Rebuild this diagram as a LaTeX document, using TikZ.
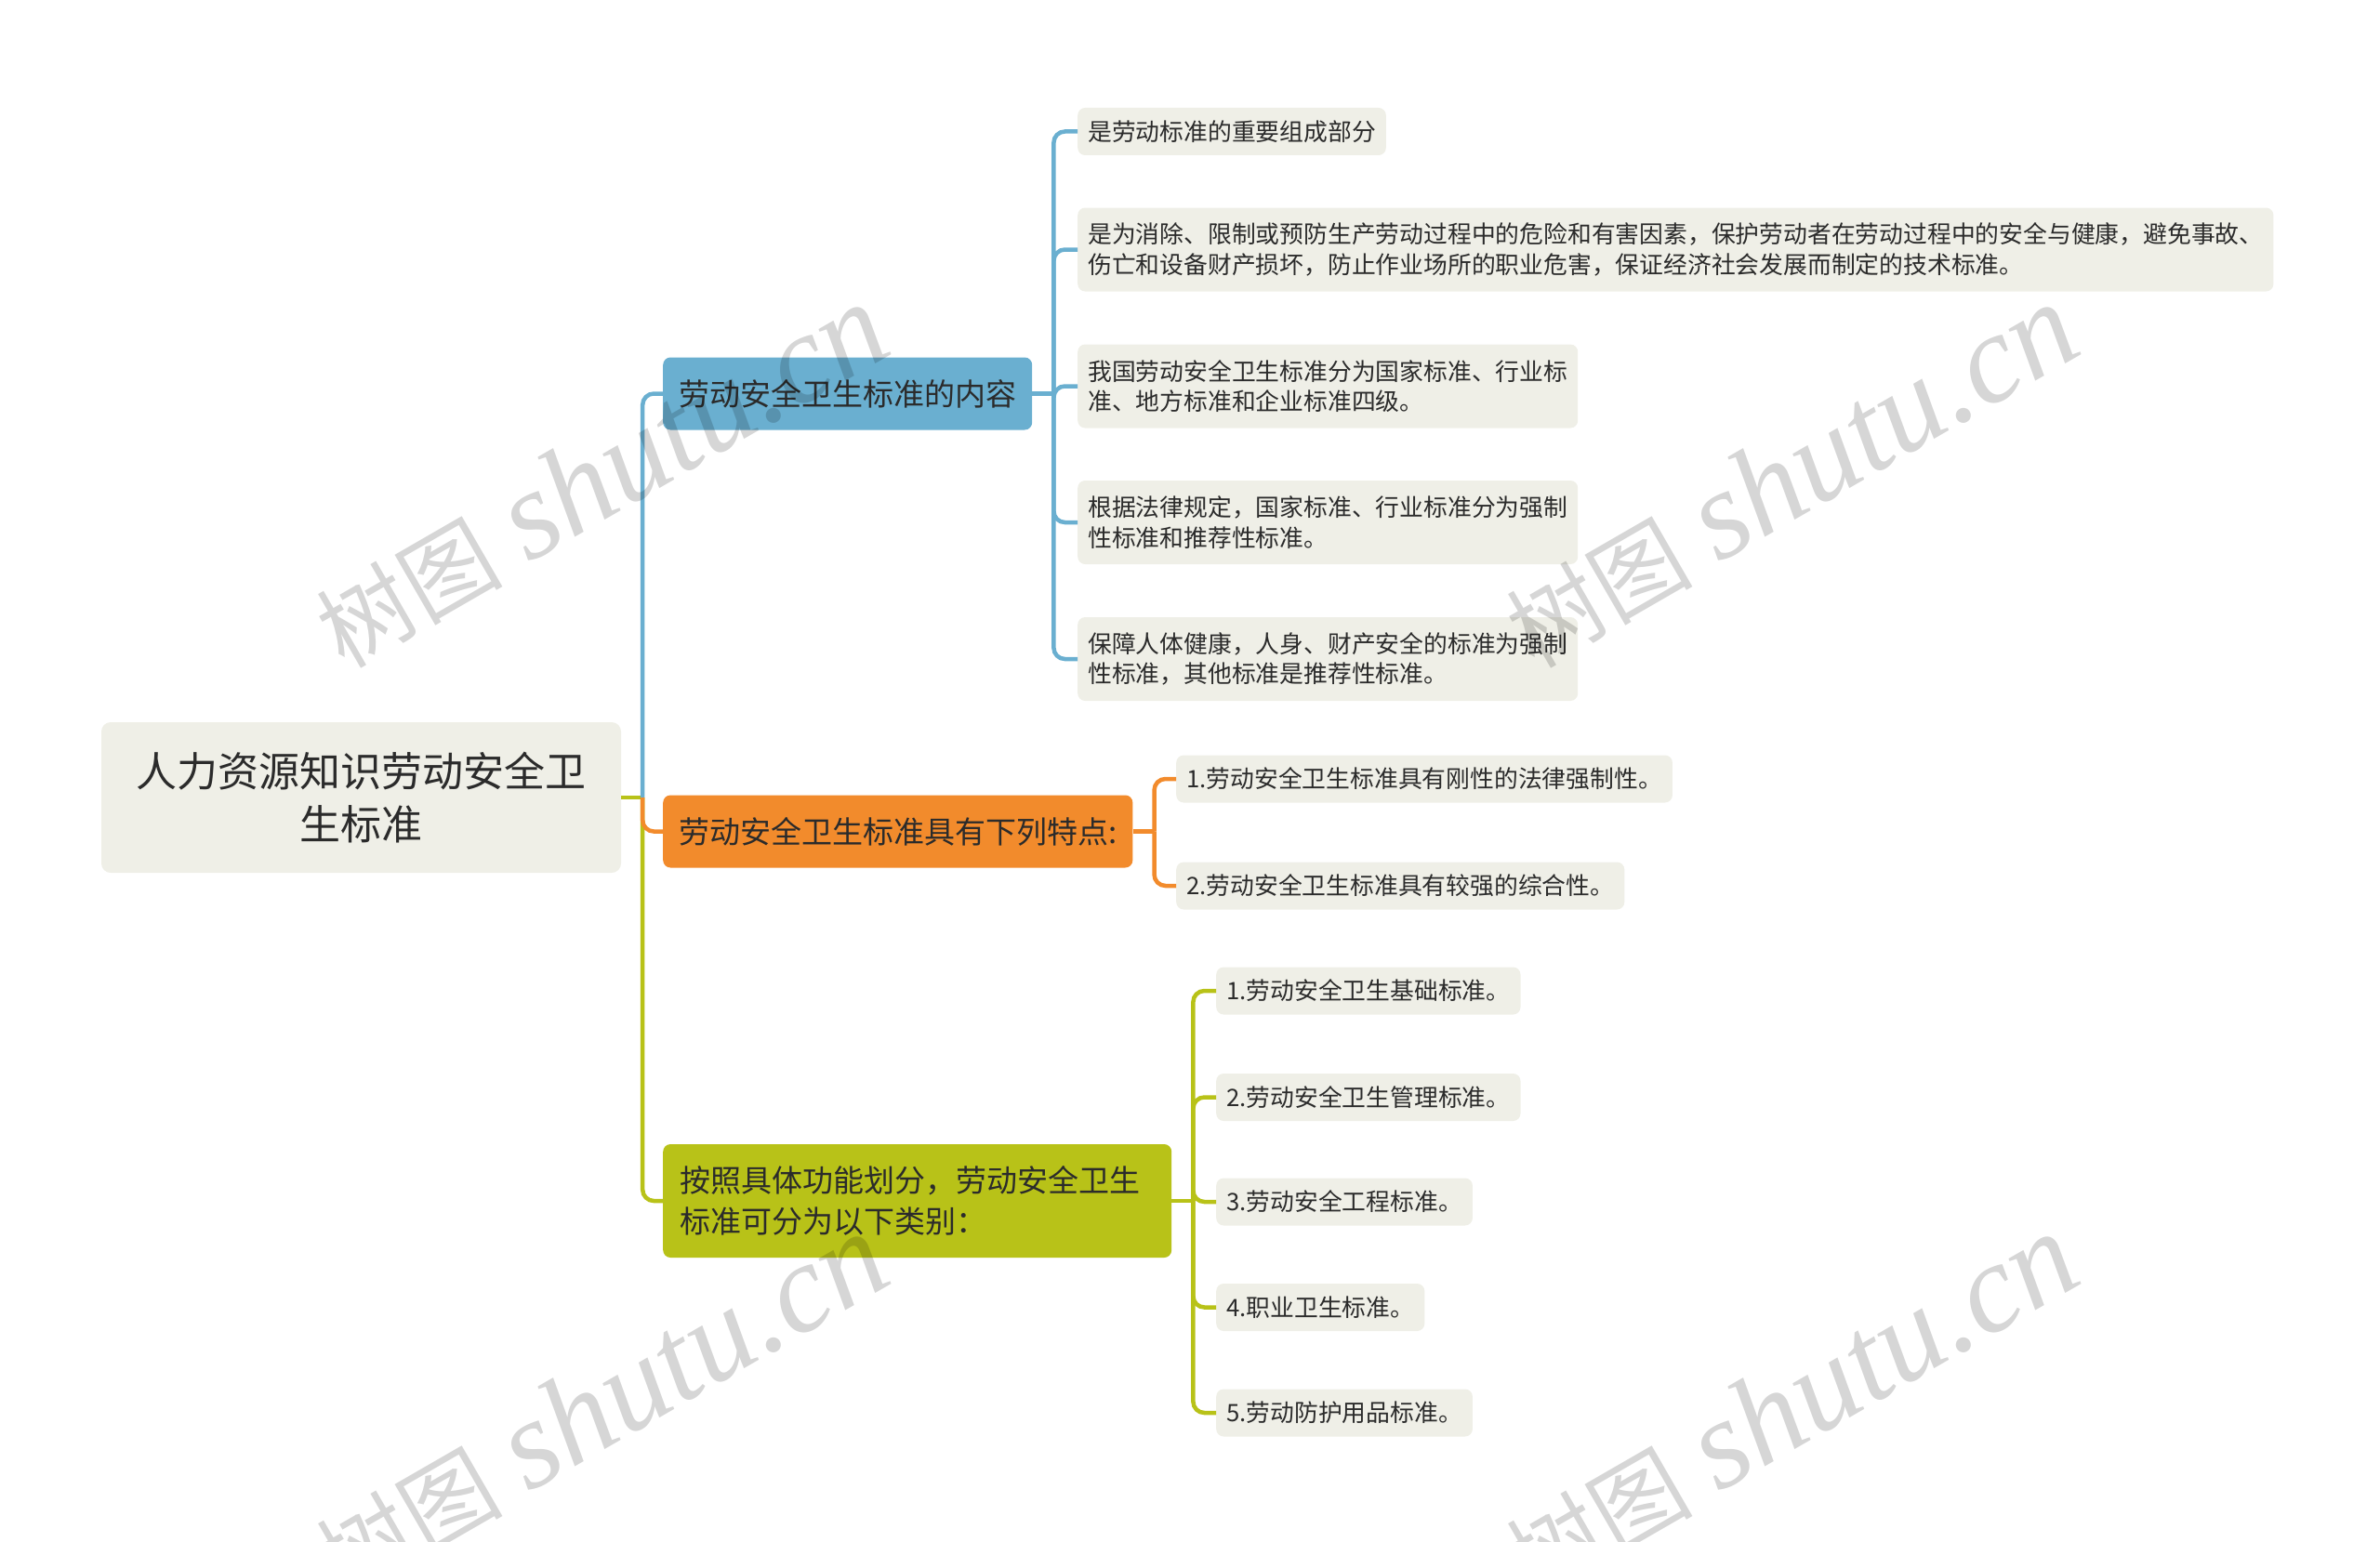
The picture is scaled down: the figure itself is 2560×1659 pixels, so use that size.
\documentclass[tikz,border=0pt]{standalone}
\usepackage{fontspec}
\setmainfont{Noto Sans CJK SC}
\newfontfamily\cjk{Noto Sans CJK SC}
\newfontfamily\wmlat{Liberation Serif}
\usetikzlibrary{calc}
\definecolor{cblue}{HTML}{6AAFD0}
\definecolor{corange}{HTML}{F28B2C}
\definecolor{cgreen}{HTML}{B8C218}
\definecolor{leaffill}{HTML}{EFEFE7}
\definecolor{txt}{HTML}{2B2B2B}
\newcommand{\wmtext}{{\cjk\fontsize{100}{100}\selectfont 树图}\hspace{28pt}{\wmlat\itshape\fontsize{136}{136}\selectfont shutu.cn}}
\begin{document}
\begin{tikzpicture}[x=1pt,y=-1pt,
  leaf/.style={fill=leaffill, rounded corners=8pt, inner xsep=11pt, inner ysep=0pt,
    minimum height=51pt, anchor=west, align=left, text=txt,
    font=\fontsize{25.8}{32.7}\selectfont},
  leaftwo/.style={leaf, minimum height=90pt},
  rootbox/.style={fill=leaffill, rounded corners=10pt, inner sep=0pt,
    minimum width=559pt, minimum height=162pt, text width=530pt, align=center,
    text=txt, font=\fontsize{44}{57}\selectfont},
  topic/.style={rounded corners=8pt, inner xsep=17pt, inner ysep=0pt,
    minimum height=78pt, anchor=west, text=txt, font=\fontsize{33}{44}\selectfont},
  conn/.style={line width=4.5pt, rounded corners=12pt},
  wm/.style={rotate=30, text=black, text opacity=0.16, inner sep=0pt}
]
\useasboundingbox (0,0) rectangle (2560,1659);

% root
\node[rootbox] (root) at (388.5,858) {人力资源知识劳动安全卫\\生标准};

% main topics
\node[topic, fill=cblue] (b) at (713,423.5) {劳动安全卫生标准的内容};
\node[topic, fill=corange] (o) at (713,894.5) {劳动安全卫生标准具有下列特点:};
\node[topic, fill=cgreen, minimum width=547pt, text width=511pt, align=left,
  minimum height=122pt, inner xsep=18pt] (g) at (713,1292)
  {按照具体功能划分，劳动安全卫生\\标准可分为以下类别：};

% blue children
\node[leaf] (b1) at (1159,141.5) {是劳动标准的重要组成部分};
\node[leaftwo] (b2) at (1159,268.5) {是为消除、限制或预防生产劳动过程中的危险和有害因素，保护劳动者在劳动过程中的安全与健康，避免事故、\\伤亡和设备财产损坏，防止作业场所的职业危害，保证经济社会发展而制定的技术标准。};
\node[leaftwo] (b3) at (1159,415.5) {我国劳动安全卫生标准分为国家标准、行业标\\准、地方标准和企业标准四级。};
\node[leaftwo] (b4) at (1159,562) {根据法律规定，国家标准、行业标准分为强制\\性标准和推荐性标准。};
\node[leaftwo] (b5) at (1159,709) {保障人体健康，人身、财产安全的标准为强制\\性标准，其他标准是推荐性标准。};

% orange children
\node[leaf] (o1) at (1265,838) {1.劳动安全卫生标准具有刚性的法律强制性。};
\node[leaf] (o2) at (1265,953) {2.劳动安全卫生标准具有较强的综合性。};

% green children
\node[leaf] (g1) at (1308,1066) {1.劳动安全卫生基础标准。};
\node[leaf] (g2) at (1308,1180.5) {2.劳动安全卫生管理标准。};
\node[leaf] (g3) at (1308,1293) {3.劳动安全工程标准。};
\node[leaf] (g4) at (1308,1406.5) {4.职业卫生标准。};
\node[leaf] (g5) at (1308,1520) {5.劳动防护用品标准。};

% connectors from root
\coordinate (rt) at ($(root.east)+(23,0)$);
\draw[conn, cgreen] (root.east) -- (rt);
\draw[conn, cblue] (rt) |- (b.west);
\draw[conn, cgreen] (rt) |- (g.west);
\draw[conn, corange] (rt) |- (o.west);

% blue
\coordinate (bt) at ($(b.east)+(23,0)$);
\draw[conn, cblue] (b.east) -- (bt);
\foreach \c in {b1,b2,b3,b4,b5} \draw[conn, cblue] (bt) |- (\c.west);

% orange
\coordinate (ot) at ($(o.east)+(23,0)$);
\draw[conn, corange] (o.east) -- (ot);
\foreach \c in {o1,o2} \draw[conn, corange] (ot) |- (\c.west);

% green
\coordinate (gt) at ($(g.east)+(23,0)$);
\draw[conn, cgreen] (g.east) -- (gt);
\foreach \c in {g1,g2,g3,g4,g5} \draw[conn, cgreen] (gt) |- (\c.west);

% watermarks
\node[wm] (wm1) at (646,512) {\wmtext};
\node[wm] (wm2) at (1926,512) {\wmtext};
\node[wm] (wm3) at (646,1512) {\wmtext};
\node[wm] (wm4) at (1926,1512) {\wmtext};
\end{tikzpicture}
\end{document}
